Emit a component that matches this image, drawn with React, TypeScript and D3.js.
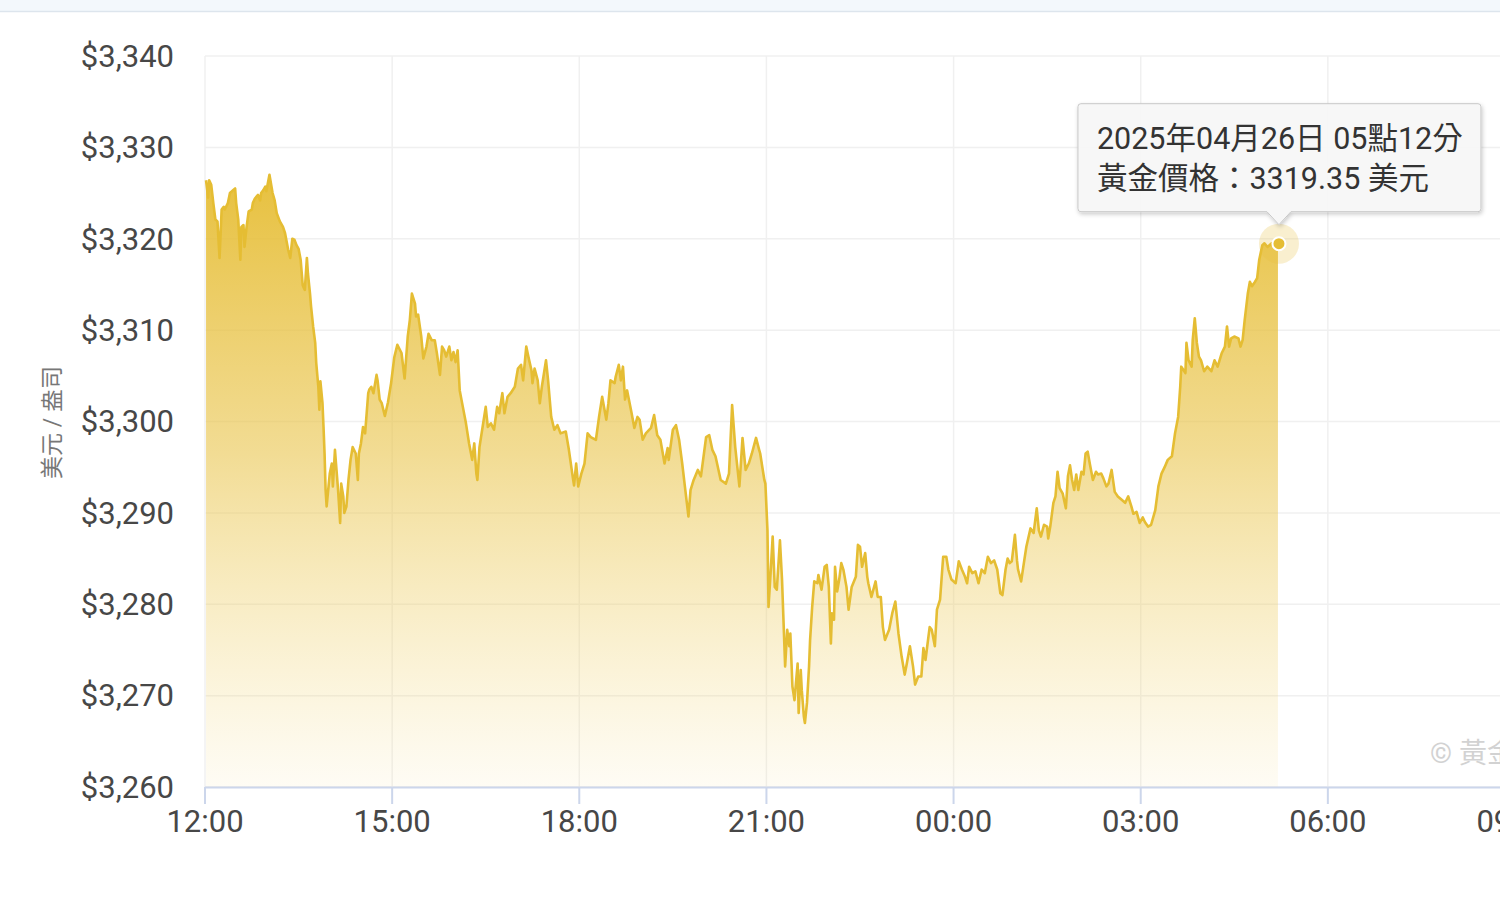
import React from 'react';
import * as d3 from 'd3';

// minutes elapsed since 12:00 (2025-04-25) and gold price (USD / oz)
const minutesFrom1200 = [
  1, 3, 4, 6, 8, 10, 12, 14, 16, 18, 19, 22, 24, 27, 29, 30, 32, 34, 35, 37, 38, 40, 42, 45, 46, 48, 51, 53, 54, 56, 58, 59,
  62, 65, 67, 69, 72, 75, 77, 80, 82, 84, 86, 88, 90, 92, 94, 96, 98, 99, 101, 102, 104, 106, 107, 109, 110, 111, 113, 114,
  115, 116, 117, 120, 122, 123, 125, 126, 128, 130, 131, 133, 134, 136, 138, 140, 142, 145, 147, 148, 150, 152, 154, 157,
  158, 160, 162, 165, 166, 168, 170, 173, 176, 179, 182, 185, 189, 192, 195, 197, 199, 202, 203, 205, 208, 210, 213, 215,
  218, 221, 223, 226, 228, 230, 232, 235, 237, 239, 241, 243, 245, 248, 251, 254, 257, 259, 261, 262, 264, 267, 270, 272,
  275, 278, 281, 283, 286, 288, 291, 294, 298, 301, 304, 306, 309, 311, 314, 315, 317, 320, 322, 324, 328, 330, 333, 336,
  339, 342, 347, 350, 354, 355, 357, 359, 362, 365, 368, 371, 376, 379, 382, 386, 388, 390, 394, 395, 398, 400, 402, 404,
  406, 410, 413, 416, 418, 421, 424, 429, 432, 435, 438, 442, 445, 446, 450, 453, 456, 459, 462, 465, 467, 470, 474, 477,
  482, 485, 488, 491, 496, 501, 504, 507, 510, 514, 517, 520, 523, 526, 530, 533, 534, 538, 539, 541, 542, 544, 546, 548,
  550, 553, 555, 558, 560, 562, 563, 565, 567, 570, 571, 573, 574, 576, 577, 579, 581, 582, 584, 586, 589, 590, 593, 596,
  598, 600, 602, 603, 605, 606, 608, 610, 612, 614, 617, 619, 622, 626, 628, 630, 632, 635, 637, 638, 641, 645, 647, 650,
  652, 654, 658, 661, 664, 667, 670, 673, 675, 678, 681, 683, 686, 689, 691, 693, 697, 699, 702, 704, 707, 710, 713, 715,
  718, 722, 725, 728, 731, 733, 735, 738, 741, 744, 747, 750, 753, 756, 759, 762, 765, 767, 770, 772, 774, 776, 779, 781,
  782, 785, 788, 790, 794, 797, 800, 802, 804, 807, 810, 811, 813, 816, 818, 820, 822, 825, 828, 830, 832, 834, 836, 838,
  840, 843, 845, 847, 849, 851, 854, 857, 859, 862, 864, 867, 869, 872, 875, 878, 882, 885, 888, 891, 893, 896, 899, 902,
  904, 907, 910, 914, 917, 920, 923, 926, 930, 933, 936, 938, 939, 943, 944, 946, 949, 950, 952, 954, 956, 958, 961, 964,
  968, 971, 974, 978, 981, 983, 985, 987, 990, 994, 996, 998, 1000, 1003, 1005, 1007, 1010, 1012, 1014, 1017, 1019, 1022,
  1026, 1029, 1032,
];

const goldPrices = [
  3326.4, 3324.5, 3326.4, 3325.9, 3323.9, 3322.1, 3321.9, 3317.9, 3323.2, 3323.5, 3323.2, 3323.9, 3325.0, 3325.3, 3325.5, 3323.9,
  3322.1, 3317.7, 3321.3, 3321.5, 3319.1, 3321.3, 3323.0, 3323.2, 3323.9, 3324.4, 3324.8, 3324.2, 3325.0, 3325.3, 3325.7, 3325.2,
  3327.0, 3325.0, 3324.2, 3322.8, 3321.9, 3321.3, 3320.6, 3318.8, 3317.9, 3320.0, 3319.9, 3319.3, 3318.9, 3317.7, 3314.9, 3314.4,
  3317.9, 3316.2, 3314.0, 3312.6, 3310.4, 3308.6, 3306.4, 3303.8, 3301.3, 3304.4, 3302.0, 3299.4,
  3296.5, 3292.5, 3290.7, 3294.3, 3295.4, 3292.9, 3296.9, 3295.4, 3292.5, 3288.9, 3293.2, 3291.8, 3290.0, 3290.7, 3293.6, 3295.8,
  3297.2, 3296.5, 3293.6, 3296.5, 3297.6, 3299.4, 3298.7, 3303.1,
  3303.5, 3303.8, 3303.1, 3305.1, 3304.5, 3302.4, 3302.0, 3300.6, 3302.1, 3304.2, 3307.0, 3308.4, 3307.5, 3304.7, 3309.3, 3311.1,
  3314.0, 3312.9, 3311.5, 3311.7, 3309.3, 3306.9, 3308.2, 3309.6,
  3308.9, 3308.9, 3307.5, 3305.1, 3308.2, 3307.8, 3307.1, 3308.2, 3306.7, 3307.6, 3306.5, 3307.8, 3303.4, 3301.6, 3299.8, 3297.6,
  3295.8, 3297.6, 3294.3, 3293.6, 3297.2, 3299.4, 3301.6, 3299.4,
  3299.8, 3299.1, 3301.6, 3300.9, 3303.1, 3300.9, 3302.7, 3303.1, 3303.8, 3305.8, 3306.2, 3304.5, 3308.2, 3307.1, 3305.6, 3304.2,
  3305.8, 3304.5, 3302.0, 3303.8, 3306.7, 3304.5, 3300.5, 3299.1,
  3299.6, 3298.7, 3298.9, 3296.9, 3293.7, 3293.0, 3295.4, 3292.9, 3294.3, 3295.4, 3298.7, 3298.3, 3298.0, 3300.5, 3302.7, 3300.2,
  3302.0, 3304.5, 3304.2, 3304.9, 3306.2, 3304.5, 3306.0, 3302.4,
  3303.4, 3301.1, 3299.3, 3300.5, 3300.2, 3298.0, 3298.7, 3299.3, 3300.7, 3298.5, 3298.0, 3295.4, 3297.1, 3295.8, 3299.1, 3299.6,
  3298.0, 3295.4, 3292.5, 3289.6, 3292.5, 3293.6, 3294.7, 3294.0,
  3298.3, 3298.5, 3296.9, 3296.2, 3293.6, 3293.2, 3294.3, 3301.8, 3297.2, 3292.9, 3298.2, 3294.7, 3295.4, 3296.5, 3298.2, 3296.9,
  3296.5, 3293.6, 3293.2, 3288.1, 3279.7, 3283.4, 3287.4, 3281.9,
  3281.6, 3287.0, 3282.7, 3273.2, 3277.2, 3275.4, 3276.8, 3271.0, 3269.5, 3273.5, 3268.1, 3272.8, 3270.6, 3267.7, 3267.0, 3269.2,
  3273.2, 3276.1, 3279.7, 3282.5, 3282.3, 3283.2, 3281.6, 3284.1,
  3284.3, 3281.9, 3275.7, 3279.0, 3278.3, 3284.1, 3281.4, 3282.7, 3284.5, 3283.8, 3281.9, 3279.4, 3281.9, 3283.0, 3286.5, 3286.3,
  3284.1, 3285.6, 3283.0, 3282.3, 3280.8, 3282.5, 3280.8, 3280.8,
  3277.5, 3276.1, 3277.2, 3279.0, 3280.3, 3276.8, 3274.3, 3272.3, 3273.5, 3275.4, 3273.2, 3271.2, 3272.1, 3272.1, 3275.2, 3273.9,
  3277.5, 3277.2, 3275.4, 3279.4, 3280.5, 3285.2, 3285.2, 3283.8,
  3282.7, 3282.3, 3284.7, 3283.8, 3283.0, 3282.3, 3284.1, 3283.4, 3283.6, 3282.3, 3283.8, 3283.4, 3285.2, 3284.5, 3284.8, 3283.8,
  3281.2, 3281.0, 3283.8, 3285.0, 3284.5, 3284.7, 3287.6, 3284.8,
  3283.8, 3282.5, 3284.8, 3286.3, 3288.3, 3287.8, 3290.5, 3288.1, 3287.4, 3288.7, 3288.5, 3287.2, 3288.5, 3291.1, 3291.8, 3294.5,
  3292.7, 3292.1, 3290.5, 3294.0, 3295.2, 3293.6, 3292.5, 3294.2,
  3292.5, 3294.5, 3294.2, 3296.5, 3296.7, 3295.4, 3293.6, 3294.5, 3294.2, 3294.3, 3293.8, 3292.9, 3293.2, 3294.7, 3292.3, 3291.8,
  3291.4, 3291.1, 3291.8, 3290.7, 3289.9, 3290.1, 3288.9, 3289.5,
  3289.0, 3288.5, 3288.7, 3290.3, 3292.9, 3294.3, 3295.0, 3295.8, 3296.2, 3298.7, 3300.5, 3303.8, 3306.0, 3305.3, 3308.6, 3306.7,
  3306.0, 3308.9, 3311.3, 3308.6, 3307.1, 3306.7, 3305.5, 3306.0,
  3305.5, 3306.7, 3306.0, 3307.5, 3308.2, 3310.4, 3308.2, 3309.1, 3309.3, 3309.1, 3308.2, 3308.9, 3311.1, 3314.0, 3315.3, 3314.8,
  3315.3, 3315.7, 3317.7, 3319.3, 3319.5, 3319.1,
  3319.5, 3319.5, 3319.35,
];

const xTickMinutes = [0, 180, 360, 540, 720, 900, 1080, 1260];
const xTickLabels = ['12:00', '15:00', '18:00', '21:00', '00:00', '03:00', '06:00', '09:00'];
const yTickValues = [3260, 3270, 3280, 3290, 3300, 3310, 3320, 3330, 3340];
const yAxisTitle = '美元 / 盎司';
const tooltipLines = ['2025年04月26日 05點12分', '黃金價格：3319.35 美元'];
const watermarkText = '© 黃金價格';

const FONT = "Roboto, 'Noto Sans CJK TC', 'Noto Sans', sans-serif";

export default function App() {
  const W = 1500;
  const H = 900;
  const x = d3.scaleLinear().domain([0, 1260]).range([205, 1515]);
  const y = d3.scaleLinear().domain([3260, 3340]).range([787, 56]);
  const fmt = d3.format('$,');

  const data = minutesFrom1200.map((m, i) => ({ m, p: goldPrices[i] }));
  const line = d3.line<any>().x((d) => x(d.m)).y((d) => y(d.p));
  const area = d3
    .area<any>()
    .x((d) => x(d.m))
    .y0(y(3260))
    .y1((d) => y(d.p));

  const last = data[data.length - 1];
  const px = x(last.m) + 1;
  const py = y(last.p) - 1;

  // tooltip geometry relative to hovered point
  const bx = px - 201;
  const bw = 403;
  const by = py - 140;
  const bh = 108;
  const r = 3;
  const tipY = py - 19;
  const tipPath = [
    `M${bx + r},${by}`,
    `H${bx + bw - r}`,
    `Q${bx + bw},${by} ${bx + bw},${by + r}`,
    `V${by + bh - r}`,
    `Q${bx + bw},${by + bh} ${bx + bw - r},${by + bh}`,
    `H${px + 12}`,
    `L${px},${tipY}`,
    `L${px - 12},${by + bh}`,
    `H${bx + r}`,
    `Q${bx},${by + bh} ${bx},${by + bh - r}`,
    `V${by + r}`,
    `Q${bx},${by} ${bx + r},${by}`,
    'Z',
  ].join(' ');

  return (
    <svg
      width={W}
      height={H}
      style={{ position: 'absolute', left: 0, top: 0, display: 'block', background: '#fff' }}
      fontFamily={FONT}
    >
      <defs>
        <linearGradient id="goldFill" gradientUnits="userSpaceOnUse" x1="0" y1={y(3327)} x2="0" y2={y(3260)}>
          <stop offset="0" stopColor="#e6bd34" stopOpacity="0.95" />
          <stop offset="0.45" stopColor="#e9c44a" stopOpacity="0.6" />
          <stop offset="1" stopColor="#f3d77a" stopOpacity="0.08" />
        </linearGradient>
        <filter id="tipShadow" x="-10%" y="-20%" width="120%" height="150%">
          <feDropShadow dx="1" dy="2" stdDeviation="2" floodColor="#000" floodOpacity="0.22" />
        </filter>
        <clipPath id="viewClip">
          <rect x="0" y="0" width={W} height={H} />
        </clipPath>
      </defs>

      {/* top band */}
      <rect x={0} y={0} width={W} height={11} fill="#f3f8fc" />
      <line x1={0} x2={W} y1={11.5} y2={11.5} stroke="#dde5ed" strokeWidth={1.5} />

      <g clipPath="url(#viewClip)">
        {/* horizontal grid */}
        {yTickValues.map((v) => (
          <line key={'hg' + v} x1={205} x2={W} y1={y(v)} y2={y(v)} stroke="#f0f0f0" strokeWidth={1.5} />
        ))}
        {/* vertical grid */}
        {xTickMinutes.map((m) => (
          <line key={'vg' + m} x1={x(m)} x2={x(m)} y1={y(3340)} y2={y(3260)} stroke="#f0f0f0" strokeWidth={1.5} />
        ))}

        {/* area + line */}
        <path d={area(data) || ''} fill="url(#goldFill)" />
        <path d={line(data) || ''} fill="none" stroke="#e5bd33" strokeWidth={2.6} strokeLinejoin="round" />

        {/* x axis */}
        <line x1={205} x2={W} y1={y(3260) + 0.5} y2={y(3260) + 0.5} stroke="#ccd6eb" strokeWidth={2} />
        {xTickMinutes.map((m, i) => (
          <g key={'xt' + m}>
            <line x1={x(m)} x2={x(m)} y1={y(3260)} y2={y(3260) + 17} stroke="#ccd6eb" strokeWidth={2} />
            <text x={x(m)} y={832} textAnchor="middle" fontSize={31} fill="#474747">
              {xTickLabels[i]}
            </text>
          </g>
        ))}

        {/* y axis labels */}
        {yTickValues.map((v) => (
          <text key={'yl' + v} x={174} y={y(v)} dy="0.35em" textAnchor="end" fontSize={31} fill="#474747">
            {fmt(v)}
          </text>
        ))}

        {/* y axis title */}
        <text
          transform={`translate(52,${y(3300) + 1}) rotate(-90)`}
          textAnchor="middle"
          dy="0.35em"
          fontSize={23}
          fill="#777"
        >
          {yAxisTitle}
        </text>

        {/* watermark */}
        <text x={1430} y={763} fontSize={28} fill="#d2d2d2">
          {watermarkText}
        </text>

        {/* hover marker */}
        <circle cx={px} cy={py} r={20} fill="#e8c13f" fillOpacity={0.25} />
        <circle cx={px} cy={py} r={6.5} fill="#e5bd33" stroke="#fff" strokeWidth={2} />

        {/* tooltip */}
        <path d={tipPath} fill="#f8f8f8" fillOpacity={0.96} stroke="#c8c8c8" strokeWidth={1} filter="url(#tipShadow)" />
        <text x={bx + 19} y={py - 95} fontSize={30.5} fill="#333">
          {tooltipLines[0]}
        </text>
        <text x={bx + 19} y={py - 55} fontSize={30.5} fill="#333">
          {tooltipLines[1]}
        </text>
      </g>
    </svg>
  );
}
